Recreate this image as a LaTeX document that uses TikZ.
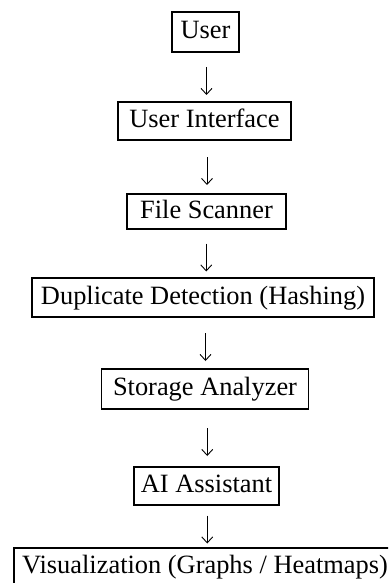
\documentclass[tikz,border=0pt]{standalone}
\usepackage{fontspec}
\setmainfont{Liberation Serif}
\usetikzlibrary{calc}
\usetikzlibrary{arrows.meta}
\tikzstyle{component}=[draw,line width=1.9pt,inner sep=0pt,minimum height=38pt,text height=18pt,text depth=5pt,font=\fontsize{26.4}{30}\selectfont]
\tikzstyle{flow}=[line width=0.9pt,-{Straight Barb[length=6pt,width=11pt]}]
\newcommand{\flowarrow}[3][4]{% Syntax: [drop below midpoint] {upper node}{lower node}
\coordinate (#2-#3) at ($(#2.south)!0.5!(#3.north)$);
\draw[flow] ($(#2-#3)+(1.5,#1-14)$) -- ($(#2-#3)+(1.5,#1+14)$);
}

\begin{document}
\begin{tikzpicture}[x=1pt,y=-1pt]
	\useasboundingbox (0,0) rectangle (388,583);
	\clip (0,0) rectangle (388,583);
	\node[component,minimum width=67pt,minimum height=40pt] (user) at (205.5,32) {User};
	\node[component,minimum width=173pt] (ui) at (204.5,121) {User Interface};
	\node[component,minimum width=159pt,minimum height=35pt] (scanner) at (206.5,211.5) {File Scanner};
	\node[component,minimum width=342pt,minimum height=39pt] (hashing) at (203,297.5) {Duplicate Detection (Hashing)};
	\node[component,minimum width=207pt,minimum height=40pt] (storage) at (205,389) {Storage Analyzer};
	\node[component,minimum width=145pt] (assistant) at (206.5,486) {AI Assistant};
	\node[component,minimum width=382pt] (charts) at (205,567) {Visualization (Graphs / Heatmaps)};
	%\draw[red] (0,0) grid[step=50pt] (388,583); % use this to debug
	\flowarrow{user}{ui}
	\flowarrow{ui}{scanner}
	\flowarrow{scanner}{hashing}
	\flowarrow{hashing}{storage}
	\flowarrow{storage}{assistant}
	\flowarrow[3]{assistant}{charts}
\end{tikzpicture}
\end{document}
